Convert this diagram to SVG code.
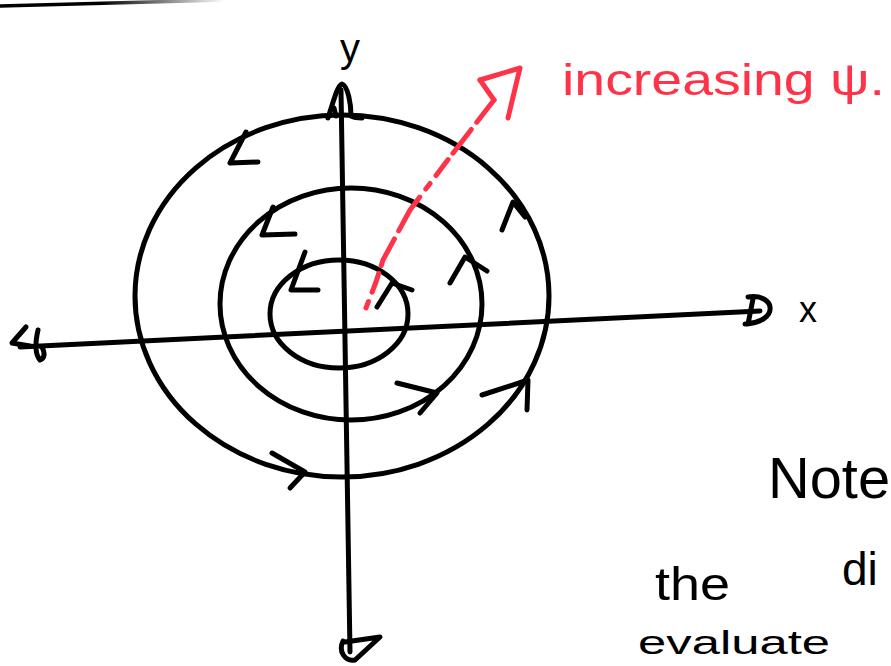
<svg xmlns="http://www.w3.org/2000/svg" width="891" height="666" viewBox="0 0 891 666">
<defs>
<style>
.ink{fill:none;stroke:#000;stroke-width:5;stroke-linecap:round;stroke-linejoin:round}
.red{fill:none;stroke:#ff3347;stroke-width:5;stroke-linecap:round;stroke-linejoin:round}
.txt{font-family:"Liberation Sans","DejaVu Sans",sans-serif;fill:#000}
.rtxt{font-family:"Liberation Sans","DejaVu Sans",sans-serif;fill:#ff3347}
</style>
<linearGradient id="fade" x1="0" y1="0" x2="1" y2="0">
<stop offset="0" stop-color="#000"/>
<stop offset="0.45" stop-color="#000"/>
<stop offset="1" stop-color="#000" stop-opacity="0"/>
</linearGradient>
</defs>
<rect width="891" height="666" fill="#fff"/>
<path d="M0,6 L225,0" stroke="url(#fade)" stroke-width="3.5" fill="none"/>

<g id="orbits">
<g id="outer-circle"><ellipse class="ink" cx="342" cy="296" rx="207" ry="181"/></g>
<g id="middle-circle"><ellipse class="ink" cx="351" cy="304" rx="131" ry="116"/></g>
<g id="inner-circle"><ellipse class="ink" cx="339" cy="314" rx="69" ry="54"/></g>
</g>

<g id="axes">
<path class="ink" d="M20,347 L760,311"/>
<path class="ink" d="M341,90 L350,652"/>
<path class="ink" d="M26,327 L12,343 L30,346"/>
<path class="ink" d="M38,330 Q33,352 40,360 Q47,357 42,347"/>
<path class="ink" d="M748,297 C776,293 780,322 745,324 M753,299 L748,324"/>
<path class="ink" d="M328,118 C334,100 337,86 342,84 C348,86 351,104 351,116 C355,118 360,118 362,118"/>
<path class="ink" d="M334,108 L336,116" stroke-width="9"/>
<path class="ink" d="M343,641 C338,651 345,662 355,660 L380,637 L345,642"/>
</g>

<g id="connectors">
<path class="ink" d="M246,132 L230,163 L258,162"/>
<path class="ink" d="M273,207 L262,235 L295,234"/>
<path class="ink" d="M305,252 L291,290 L318,290"/>
<path class="ink" d="M502,230 L513,202 L525,217"/>
<path class="ink" d="M450,283 L465,257 L487,271"/>
<path class="ink" d="M377,307 L392,283 L412,290"/>
<path class="ink" d="M272,453 L305,472 L290,488"/>
<path class="ink" d="M397,383 L437,393 L420,413"/>
<path class="ink" d="M482,395 L528,380 L527,410"/>
</g>

<g id="increasing-arrow">
<path class="red" d="M366,308 L376,282 L383,260 L410,210 L450,157 L494,100" stroke-dasharray="7 10 20 8 30 9 40 10"/>
<path class="red" d="M480,80 L520,68 L508,118"/>
<path class="red" d="M480,80 L494,100"/>
</g>

<g id="labels">
<text class="txt" x="340" y="62" font-size="40">y</text>
<text class="txt" x="799" y="322" font-size="36">x</text>
<text class="rtxt" x="562" y="95" font-size="44" textLength="323" lengthAdjust="spacingAndGlyphs">increasing ψ.</text>
<text class="txt" x="768" y="498" font-size="58" textLength="122" lengthAdjust="spacingAndGlyphs">Note</text>
<text class="txt" x="655" y="600" font-size="46" textLength="75" lengthAdjust="spacingAndGlyphs">the</text>
<text class="txt" x="842" y="585" font-size="46">di</text>
<text class="txt" x="638" y="654" font-size="34" textLength="192" lengthAdjust="spacingAndGlyphs">evaluate</text>
</g>
</svg>
